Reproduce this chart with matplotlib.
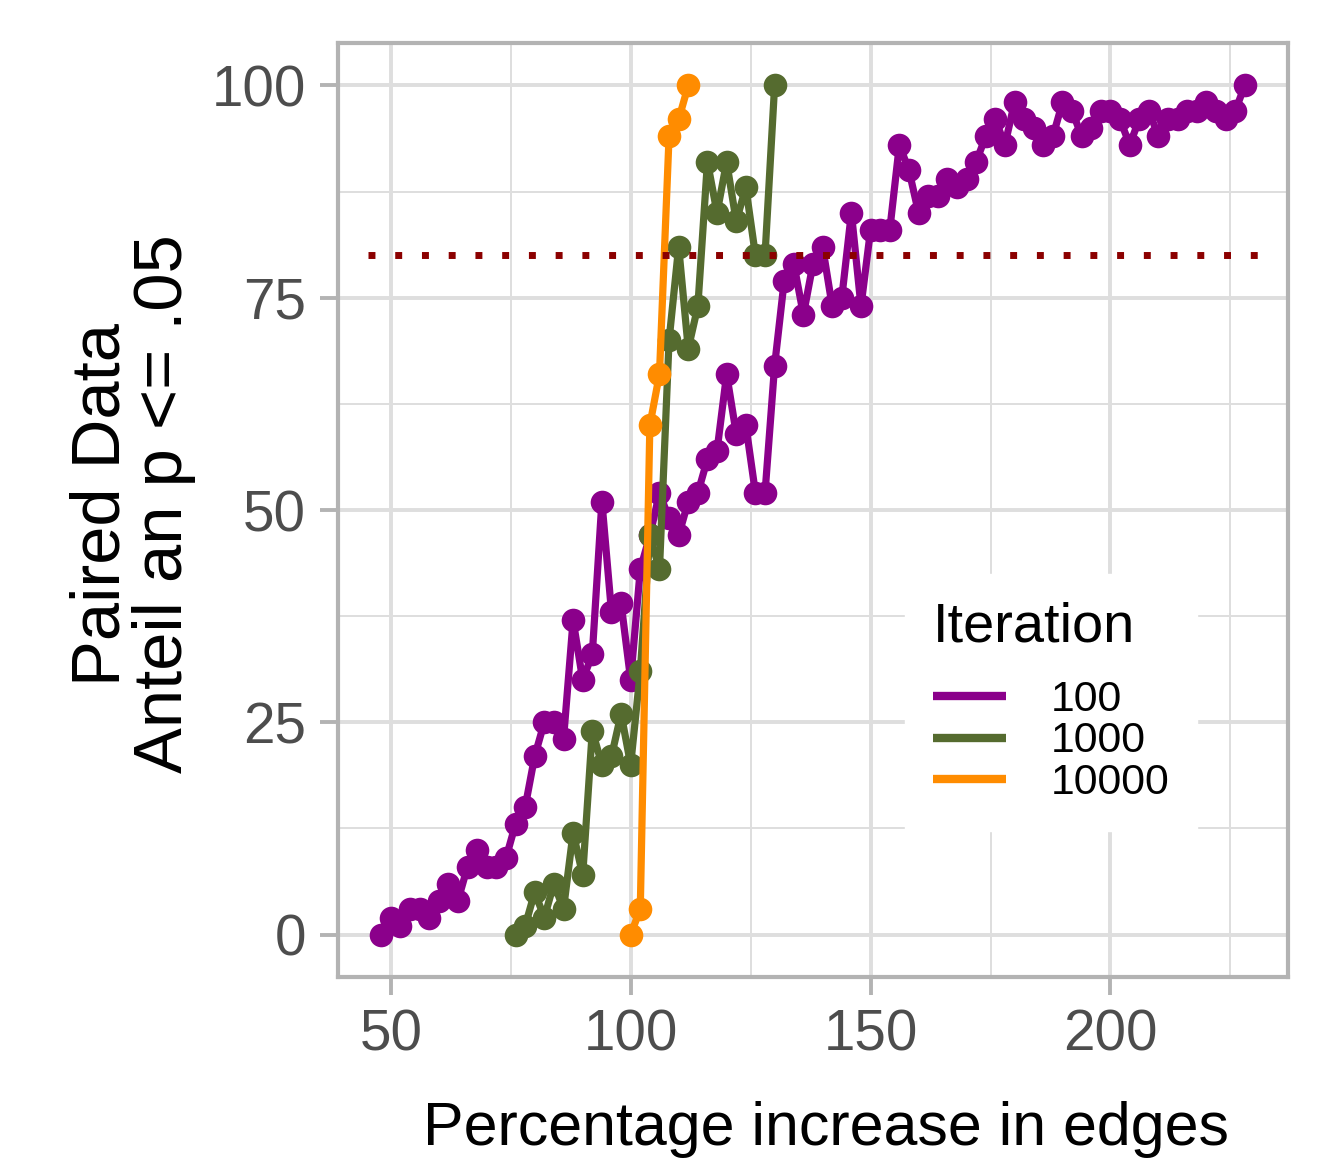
import matplotlib
matplotlib.use("Agg")
import matplotlib.pyplot as plt
from matplotlib.lines import Line2D

plt.rcParams['font.family'] = ['Liberation Sans', 'DejaVu Sans']

# ---- data ----
x_100 = [48, 50, 52, 54, 56, 58, 60, 62, 64, 66, 68, 70, 72, 74, 76, 78, 80, 82, 84, 86,
         88, 90, 92, 94, 96, 98, 100, 102, 104, 106, 108, 110, 112, 114, 116, 118, 120, 122,
         124, 126, 128, 130, 132, 134, 136, 138, 140, 142, 144, 146, 148, 150, 152, 154, 156,
         158, 160, 162, 164, 166, 168, 170, 172, 174, 176, 178, 180, 182, 184, 186, 188, 190,
         192, 194, 196, 198, 200, 202, 204, 206, 208, 210, 212, 214, 216, 218, 220, 222, 224,
         226, 228]
y_100 = [0, 2, 1, 3, 3, 2, 4, 6, 4, 8, 10, 8, 8, 9, 13, 15, 21, 25, 25, 23,
         37, 30, 33, 51, 38, 39, 30, 43, 47, 52, 49, 47, 51, 52, 56, 57, 66, 59,
         60, 52, 52, 67, 77, 79, 73, 79, 81, 74, 75, 85, 74, 83, 83, 83, 93,
         90, 85, 87, 87, 89, 88, 89, 91, 94, 96, 93, 98, 96, 95, 93, 94, 98,
         97, 94, 95, 97, 97, 96, 93, 96, 97, 94, 96, 96, 97, 97, 98, 97, 96,
         97, 100]

x_1000 = [76, 78, 80, 82, 84, 86, 88, 90, 92, 94, 96, 98, 100, 102, 104, 106, 108, 110,
          112, 114, 116, 118, 120, 122, 124, 126, 128, 130]
y_1000 = [0, 1, 5, 2, 6, 3, 12, 7, 24, 20, 21, 26, 20, 31, 47, 43, 70, 81,
          69, 74, 91, 85, 91, 84, 88, 80, 80, 100]

x_10000 = [100, 102, 104, 106, 108, 110, 112]
y_10000 = [0, 3, 60, 66, 94, 96, 100]

series_labels = ["100", "1000", "10000"]
series_colors = ["#8B008B", "#556B2F", "#FF8C00"]
threshold = 80
threshold_span = [45.2, 233.6]

x_ticks = [50, 100, 150, 200]
y_ticks = [0, 25, 50, 75, 100]
x_minor = [75, 125, 175, 225]
y_minor = [12.5, 37.5, 62.5, 87.5]

# ---- figure ----
W, H = 1324, 1161
fig = plt.figure(figsize=(W / 100, H / 100), dpi=100)
ax = fig.add_axes([338 / W, 1 - 977 / H, (1288 - 338) / W, (977 - 43) / H])

grid_col = "#DEDEDE"
border_col = "#B3B3B3"

ax.set_xlim(39.0, 237.0)
ax.set_ylim(-5, 105)
ax.set_xticks(x_ticks)
ax.set_yticks(y_ticks)
ax.set_xticks(x_minor, minor=True)
ax.set_yticks(y_minor, minor=True)
ax.grid(True, which="major", color=grid_col, linewidth=2.8, zorder=0)
ax.grid(True, which="minor", color=grid_col, linewidth=1.4, zorder=0)
ax.set_axisbelow(True)
ax.tick_params(which="major", length=13, width=2.8, color=border_col,
               labelsize=40.8, labelcolor="#4D4D4D", pad=10)
ax.tick_params(which="minor", length=0)
for s in ax.spines.values():
    s.set_color(border_col)
    s.set_linewidth(3.0)

xs = [x_100, x_1000, x_10000]
ys = [y_100, y_1000, y_10000]
for i, (xx, yy) in enumerate(zip(xs, ys)):
    ax.plot(xx, yy, color=series_colors[i], linewidth=5.2, marker="o",
            markersize=17, markeredgewidth=0, zorder=3 + i,
            solid_joinstyle="round", solid_capstyle="round")

ax.hlines(threshold, threshold_span[0], threshold_span[1], color="#8B0000",
          linewidth=5.0, linestyle=(0, (1.0, 2.85)), zorder=10)

# legend
handles = [Line2D([0], [0], color=c, linewidth=6, solid_capstyle="butt")
           for c in series_colors]
leg = ax.legend(handles, series_labels, title="Iteration",
                loc="upper left", bbox_to_anchor=(905 / W, 1 - 574 / H),
                bbox_transform=fig.transFigure, borderaxespad=0,
                fontsize=30.8, title_fontsize=40.3, frameon=True, fancybox=False,
                edgecolor="white", facecolor="white", framealpha=1,
                handlelength=1.7, handletextpad=1.05, labelspacing=0.03,
                borderpad=0.65, alignment="left")
leg._legend_box.sep = 19
leg.set_zorder(20)

# axis titles
fig.text(826 / W, 1 - 1130 / H, "Percentage increase in edges",
         ha="center", va="center", fontsize=43.8, color="black")
fig.text(133 / W, 1 - 504 / H, "Paired Data\nAnteil an p <= .05",
         ha="center", va="center", rotation=90, fontsize=49.5, color="black",
         linespacing=0.98, multialignment="center")

fig.savefig("out.png", dpi=100)
